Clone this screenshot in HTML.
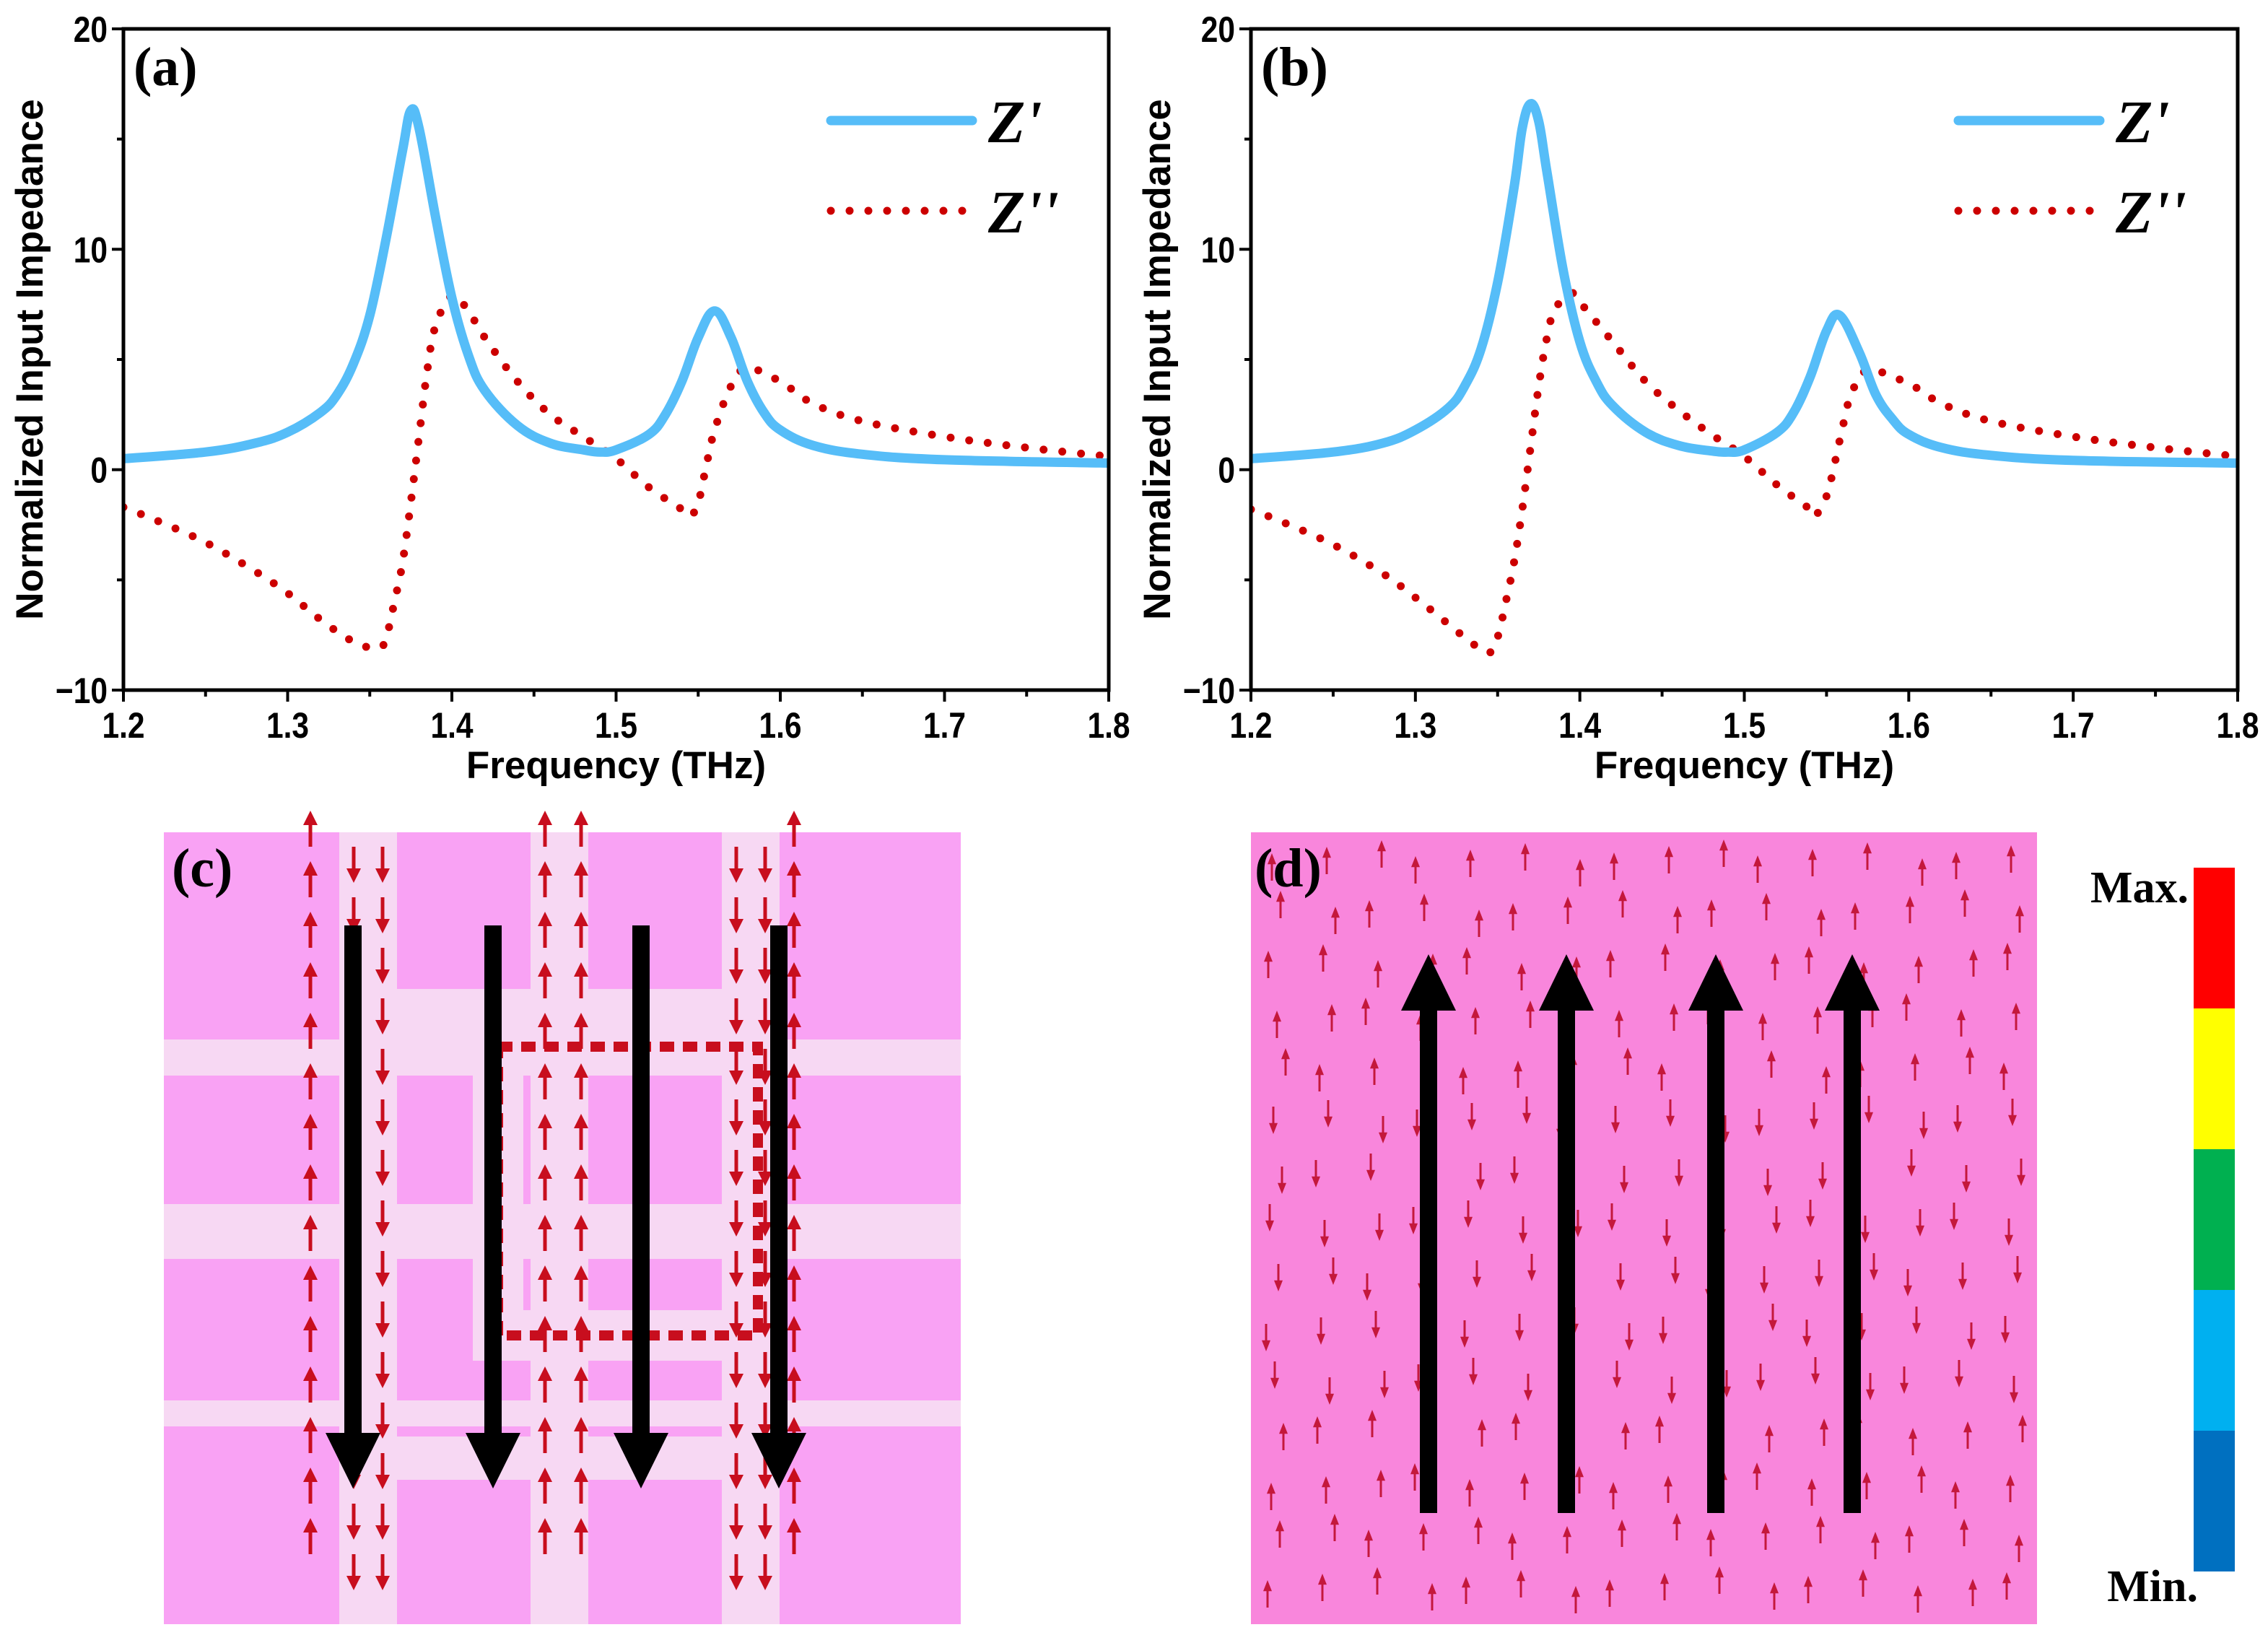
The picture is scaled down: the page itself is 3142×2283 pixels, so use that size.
<!DOCTYPE html>
<html><head><meta charset="utf-8"><style>
html,body{margin:0;padding:0;background:#fff;}
svg{display:block;}
.tick{font-family:"Liberation Sans",sans-serif;font-size:50px;font-weight:bold;}
.ax{font-family:"Liberation Sans",sans-serif;font-size:53px;font-weight:bold;}
.pl{font-family:"Liberation Serif",serif;font-size:76px;font-weight:bold;}
.lg{font-family:"Liberation Serif",serif;font-size:84px;font-style:italic;font-weight:bold;}
</style></head><body>
<svg id="root" width="3142" height="2283" viewBox="0 0 3142 2283" xmlns="http://www.w3.org/2000/svg">
<g id="chartA"></g>
<g id="chartB"></g>
<g id="panelC"></g>
<g id="panelD"></g>
<g id="cbar"></g>
</svg>
<script>
const NS="http://www.w3.org/2000/svg";
const xTicks=[1.2,1.3,1.4,1.5,1.6,1.7,1.8];
const xTickLabels=["1.2","1.3","1.4","1.5","1.6","1.7","1.8"];
const yTicks=[-10,0,10,20];
const yTickLabels=["\u221210","0","10","20"];
const freqRe_a=[1.20,1.25,1.28,1.30,1.32,1.33,1.34,1.35,1.36,1.37,1.375,1.38,1.39,1.40,1.41,1.42,1.44,1.46,1.48,1.49,1.50,1.52,1.53,1.54,1.55,1.56,1.57,1.58,1.59,1.60,1.62,1.65,1.70,1.80];
const zRe_a=[0.5,0.8,1.2,1.7,2.6,3.4,4.8,7.0,10.5,14.5,16.3,15.5,11.5,7.8,5.2,3.6,2.0,1.2,0.9,0.8,0.9,1.6,2.5,4.0,6.0,7.2,6.0,4.0,2.6,1.8,1.1,0.7,0.45,0.3];
const freqIm_a=[1.20,1.22,1.25,1.28,1.30,1.32,1.34,1.355,1.36,1.365,1.37,1.375,1.38,1.385,1.39,1.40,1.41,1.42,1.44,1.46,1.48,1.50,1.52,1.54,1.545,1.55,1.555,1.56,1.57,1.58,1.60,1.62,1.65,1.70,1.75,1.80];
const zIm_a=[-1.7,-2.3,-3.3,-4.6,-5.6,-6.8,-7.8,-8.1,-7.6,-6.0,-4.2,-1.5,1.5,4.5,6.5,7.9,7.2,6.0,4.0,2.5,1.5,0.5,-0.8,-1.8,-2.1,-1.5,0.2,1.8,3.8,4.6,4.0,3.0,2.2,1.5,1.0,0.6];
const freqRe_b=[1.20,1.25,1.28,1.30,1.32,1.33,1.34,1.35,1.36,1.365,1.37,1.375,1.38,1.39,1.40,1.41,1.42,1.44,1.46,1.48,1.49,1.50,1.52,1.53,1.54,1.55,1.558,1.57,1.58,1.59,1.60,1.62,1.65,1.70,1.80];
const zRe_b=[0.5,0.8,1.2,1.8,2.8,3.8,5.5,8.5,12.8,15.5,16.6,15.8,13.5,9.0,5.8,4.0,2.9,1.7,1.1,0.85,0.8,0.9,1.7,2.6,4.2,6.3,7.0,5.3,3.4,2.3,1.6,1.0,0.65,0.42,0.3];
const freqIm_b=[1.20,1.22,1.25,1.28,1.30,1.32,1.335,1.345,1.35,1.355,1.36,1.365,1.37,1.375,1.38,1.385,1.395,1.40,1.42,1.44,1.46,1.48,1.50,1.52,1.54,1.543,1.55,1.555,1.56,1.565,1.575,1.60,1.62,1.65,1.70,1.75,1.80];
const zIm_b=[-1.8,-2.4,-3.4,-4.7,-5.8,-7.0,-7.9,-8.3,-7.6,-6.0,-4.2,-1.8,1.0,3.8,6.0,7.3,8.0,7.6,5.8,4.0,2.7,1.6,0.6,-0.7,-1.8,-2.1,-1.2,0.3,2.0,3.4,4.5,3.9,3.0,2.2,1.5,1.0,0.6];

function el(tag,attrs,parent,text){const e=document.createElementNS(NS,tag);for(const k in attrs)e.setAttribute(k,attrs[k]);if(text!==undefined)e.textContent=text;parent.appendChild(e);return e;}
function smooth(pts){
  let d='M'+pts[0][0].toFixed(1)+','+pts[0][1].toFixed(1);
  for(let i=0;i<pts.length-1;i++){
    const p0=pts[Math.max(0,i-1)],p1=pts[i],p2=pts[i+1],p3=pts[Math.min(pts.length-1,i+2)];
    const t=0.18;
    const c1=[p1[0]+(p2[0]-p0[0])*t,p1[1]+(p2[1]-p0[1])*t];
    const c2=[p2[0]-(p3[0]-p1[0])*t,p2[1]-(p3[1]-p1[1])*t];
    d+=` C${c1[0].toFixed(1)},${c1[1].toFixed(1)} ${c2[0].toFixed(1)},${c2[1].toFixed(1)} ${p2[0].toFixed(1)},${p2[1].toFixed(1)}`;
  }
  return d;
}

function drawChart(g,left,right,top,bottom,label,fRe,zRe,fIm,zIm){
  const X=v=>left+(v-1.2)/(0.6)*(right-left);
  const Y=v=>bottom-(v+10)/30*(bottom-top);
  for(let i=0;i<6;i++){const v=1.25+i*0.1;const t=el('line',{x1:X(v),x2:X(v),y1:bottom,y2:bottom+9,stroke:'#000','stroke-width':4},g);}
  [-5,5,15].forEach(v=>{const t=el('line',{x1:left-9,x2:left,y1:Y(v),y2:Y(v),stroke:'#000','stroke-width':4},g);});
  xTicks.forEach((v,i)=>{
    const t=el('line',{x1:X(v),x2:X(v),y1:bottom,y2:bottom+16,stroke:'#000','stroke-width':4},g);
    
    const l=el('text',{x:X(v),y:bottom+66,'text-anchor':'middle',class:'tick',transform:`translate(${X(v)},0) scale(0.85,1) translate(${-X(v)},0)`},g,xTickLabels[i]);
    
  });
  yTicks.forEach((v,i)=>{
    const t=el('line',{x1:left-16,x2:left,y1:Y(v),y2:Y(v),stroke:'#000','stroke-width':4},g);
    
    const l=el('text',{x:left-22,y:Y(v)+18,'text-anchor':'end',class:'tick',transform:`translate(${left-22},0) scale(0.85,1) translate(${-(left-22)},0)`},g,yTickLabels[i]);
    
  });
  const cp=el('clipPath',{id:'cp'+label},g);el('rect',{x:left,y:top,width:right-left,height:bottom-top},cp);
  const dRe=smooth(fRe.map((f,i)=>[X(f),Y(zRe[i])]));
  const dIm=smooth(fIm.map((f,i)=>[X(f),Y(zIm[i])]));
  const pIm=el('path',{d:dIm,fill:'none',stroke:'#cc0000','stroke-width':11,'stroke-linecap':'round','stroke-dasharray':'0 26','stroke-linejoin':'round','clip-path':`url(#cp${label})`},g);
  
  const pRe=el('path',{d:dRe,fill:'none',stroke:'#56bdf8','stroke-width':13,'stroke-linejoin':'round','clip-path':`url(#cp${label})`},g);
  
  const fr=el('rect',{x:left,y:top,width:right-left,height:bottom-top,fill:'none',stroke:'#000','stroke-width':5},g);
  
  const xt=el('text',{x:(left+right)/2,y:1078,'text-anchor':'middle',class:'ax'},g,'Frequency (THz)');
  
  const yx=left-112,yy=(top+bottom)/2;
  const yt=el('text',{x:yx,y:yy,'text-anchor':'middle',class:'ax',transform:`rotate(-90 ${yx} ${yy})`},g,'Normalized Input Impedance');
  
  const pl=el('text',{x:left+14,y:top+78,class:'pl'},g,'('+label+')');
  
  const lx=left+(1151-171);
  const l1=el('line',{x1:lx,x2:lx+196,y1:167,y2:167,stroke:'#56bdf8','stroke-width':13,'stroke-linecap':'round'},g);
  
  const t1=el('text',{x:lx+218,y:197,class:'lg'},g,"Z'");
  
  const l2=el('line',{x1:lx,x2:lx+196,y1:292,y2:292,stroke:'#cc0000','stroke-width':11,'stroke-linecap':'round','stroke-dasharray':'0 26'},g);
  
  const t2=el('text',{x:lx+218,y:322,class:'lg'},g,"Z''");
  
}
drawChart(document.getElementById('chartA'),171,1536,40,956,'a',freqRe_a,zRe_a,freqIm_a,zIm_a);
drawChart(document.getElementById('chartB'),1733,3100,40,956,'b',freqRe_b,zRe_b,freqIm_b,zIm_b);

function arrow(g,x,y,len,dir,color,w){
  const y2=y+dir*len;
  el('line',{x1:x,y1:y,x2:x,y2:y2-dir*len*0.35,stroke:color,'stroke-width':w},g);
  el('polygon',{points:`${x},${y2} ${x-w*2},${y2-dir*len*0.4} ${x+w*2},${y2-dir*len*0.4}`,fill:color},g);
}
(function(){
  const g=document.getElementById('panelC');
  const L=227,T=1153,W=1104,H=1097;
  const bg=el('rect',{x:L,y:T,width:W,height:H,fill:'#f9a2f4'},g);
  
  const bands=[[1440,50],[1668,76],[1940,36]];
  bands.forEach(b=>el('rect',{x:L,y:b[0],width:W,height:b[1],fill:'#f7d8f3'},g));
  el('rect',{x:510,y:1370,width:560,height:80,fill:'#f7d8f3'},g);
  el('rect',{x:510,y:1990,width:560,height:60,fill:'#f7d8f3'},g);
  [[470,80],[735,80],[1000,80]].forEach(v=>el('rect',{x:v[0],y:T,width:v[1],height:H,fill:'#f7d8f3'},g));
  el('rect',{x:690,y:1450,width:360,height:400,fill:'none',stroke:'#f7d8f3','stroke-width':70},g);
  el('rect',{x:690,y:1450,width:360,height:400,fill:'none',stroke:'#c80e1e','stroke-width':14,'stroke-dasharray':'20 12'},g);
  [[490,1],[530,1],[755,-1],[805,-1],[1020,1],[1060,1],[430,-1],[1100,-1]].forEach(c=>{
    for(let y=T+20;y<T+H-40;y+=70){arrow(g,c[0],y,50,c[1],'#c80e1e',5);}
  });
  const pl=el('text',{x:238,y:1228,class:'pl'},g,'(c)');
  
  [489,683,888,1079].forEach(x=>{
    const a=el('g',{},g);
    
    el('rect',{x:x-12,y:1282,width:24,height:720,fill:'#000'},a);
    el('polygon',{points:`${x-38},1985 ${x+38},1985 ${x},2062`,fill:'#000'},a);
  });
})();
(function(){
  const g=document.getElementById('panelD');
  const L=1733,T=1153,W=1089,H=1097;
  const bg=el('rect',{x:L,y:T,width:W,height:H,fill:'#f986dc'},g);
  
  let k=0;
  for(let y=T+40;y<T+H-30;y+=72){
    for(let x=L+35;x<L+W-20;x+=68){
      k++;
      const jx=((k*37)%29)-14, jy=((k*53)%31)-15;
      const dir=(y>1500&&y<1950)?1:-1;
      arrow(g,x+jx,y+jy+(dir<0?20:-20),38,dir,'#c4183c',3);
    }
  }
  const pl=el('text',{x:1738,y:1228,class:'pl'},g,'(d)');
  
  [1979,2170,2377,2566].forEach(x=>{
    const a=el('g',{},g);
    
    el('rect',{x:x-12,y:1390,width:24,height:706,fill:'#000'},a);
    el('polygon',{points:`${x-38},1400 ${x+38},1400 ${x},1322`,fill:'#000'},a);
  });
})();
(function(){
  const g=document.getElementById('cbar');
  const cols=['#ff0000','#ffff00','#00b050','#00b0f0','#0070c0'];
  const top=1202,h=195;
  cols.forEach((c,i)=>{const r=el('rect',{x:3039,y:top+i*h,width:57,height:h,fill:c},g);});
  const t1=el('text',{x:3032,y:1250,'text-anchor':'end',class:'pl'},g,'Max.');
  
  const t2=el('text',{x:3045,y:2218,'text-anchor':'end',class:'pl'},g,'Min.');
  
  t1.style.fontSize='62px';t2.style.fontSize='62px';
})();
</script>
</body></html>
